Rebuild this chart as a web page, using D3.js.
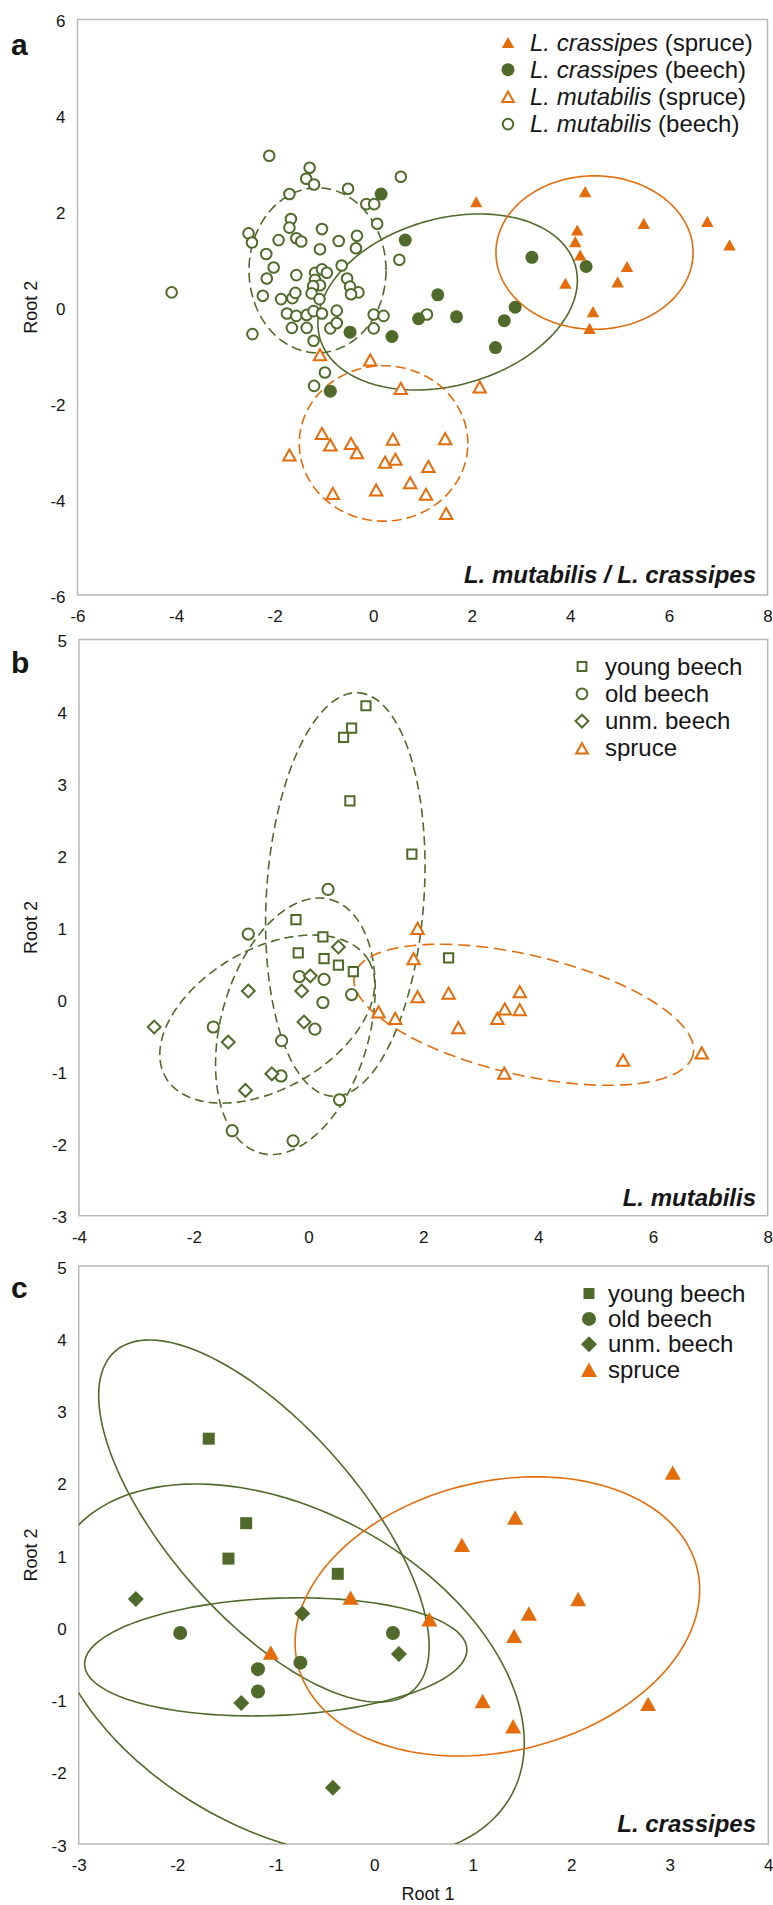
<!DOCTYPE html>
<html>
<head>
<meta charset="utf-8">
<script src="https://cdn.jsdelivr.net/npm/d3@7"></script>
<style>
  html, body { margin: 0; padding: 0; background: #fff; }
  svg { display: block; font-family: "Liberation Sans", Arial, Helvetica, sans-serif; }
</style>
</head>
<body>
<svg id="fig" width="773" height="1905"></svg>
<script>
// ---------- Panel a: L. mutabilis / L. crassipes (Root 1, Root 2 scores) ----------
const mutBeechA = [
  [-2.11,3.16],[-1.29,2.91],[-1.36,2.68],[-1.20,2.56],[-1.70,2.36],[-0.51,2.47],[-0.14,2.15],[0.02,2.15],[0.56,2.72],[0.08,1.74],
  [-1.67,1.84],[-1.70,1.66],[-2.53,1.54],[-2.46,1.35],[-1.92,1.40],[-1.56,1.44],[-1.46,1.37],[-1.04,1.63],[-1.08,1.21],[-0.70,1.38],
  [-0.33,1.49],[-0.35,1.23],[-2.17,1.11],[-2.02,0.83],[-2.16,0.60],[-1.56,0.67],[-1.18,0.72],[-1.04,0.79],[-0.94,0.72],[-1.18,0.57],
  [-1.08,0.46],[-1.22,0.44],[-1.25,0.29],[-0.64,0.87],[-0.53,0.60],[-0.47,0.43],[-0.30,0.31],[-0.45,0.27],[0.53,0.99],[-4.09,0.31],
  [-2.24,0.24],[-1.87,0.17],[-1.64,0.19],[-1.58,0.30],[-1.09,0.17],[-1.75,-0.13],[-1.56,-0.18],[-1.35,-0.16],[-1.21,-0.08],[-1.04,-0.13],
  [-0.74,-0.07],[0.01,-0.15],[0.21,-0.18],[-2.45,-0.56],[-1.65,-0.43],[-1.35,-0.43],[-0.87,-0.44],[-0.74,-0.33],[-1.21,-0.70],[-0.98,-1.36],
  [-1.20,-1.64],[0.01,-0.44],[1.09,-0.15]
];
const mutSpruceA = [
  [-1.08,-0.99],[-0.06,-1.10],[0.56,-1.69],[2.16,-1.66],[-1.04,-2.63],[-0.87,-2.87],[-1.70,-3.08],[-0.45,-2.84],[-0.33,-3.03],[0.40,-2.75],
  [0.24,-3.23],[0.45,-3.17],[-0.82,-3.88],[0.06,-3.81],[1.12,-3.32],[1.46,-2.74],[0.75,-3.66],[1.07,-3.90],[1.48,-4.30]
];
const crasBeechA = [
  [0.16,2.36],[0.65,1.40],[3.22,1.04],[4.32,0.85],[1.31,0.26],[0.92,-0.24],[1.69,-0.20],[2.88,0.00],[2.66,-0.28],[0.38,-0.61],
  [2.48,-0.84],[-0.47,-0.52],[-0.87,-1.75]
];
const crasSpruceA = [
  [2.09,2.20],[4.30,2.41],[4.14,1.61],[4.10,1.37],[4.20,1.09],[5.49,1.75],[6.78,1.79],[7.23,1.30],[5.15,0.85],[4.96,0.53],
  [3.90,0.50],[4.46,-0.09],[4.39,-0.44]
];
// group ellipses: centre and two semi-axis vectors, in score units
const ellipsesA = [
  { group: "mutBeech",   cx: -1.13, cy: 0.77,  ax: 1.39, ay: 0.00, bx: 0.00, by: 1.72 },
  { group: "crasBeech",  cx: 1.51,  cy: 0.11,  ax: 2.59, ay: 0.76, bx: 0.47, by: -1.67 },
  { group: "crasSpruce", cx: 4.49,  cy: 1.14,  ax: 2.00, ay: 0.00, bx: 0.00, by: 1.60 },
  { group: "mutSpruce",  cx: 0.21,  cy: -2.84, ax: 1.71, ay: 0.00, bx: 0.00, by: 1.62 }
];
const xTicksA = [-6, -4, -2, 0, 2, 4, 6, 8];
const yTicksA = [-6, -4, -2, 0, 2, 4, 6];

// ---------- Panel b: L. mutabilis by stand ----------
const youngBeechB = [
  [1.00,4.08],[0.75,3.77],[0.61,3.64],[0.72,2.76],[1.80,2.02],[-0.22,1.11],[0.25,0.87],[-0.18,0.65],[0.27,0.57],[0.52,0.48],
  [0.78,0.39],[2.44,0.58]
];
const oldBeechB = [
  [0.34,1.53],[-1.05,0.91],[-0.16,0.32],[0.27,0.28],[0.75,0.07],[0.25,-0.04],[0.11,-0.41],[-1.66,-0.38],[-0.47,-0.57],[-0.48,-1.06],
  [0.54,-1.39],[-1.33,-1.82],[-0.27,-1.96]
];
const unmBeechB = [
  [0.52,0.73],[0.03,0.33],[-0.12,0.12],[-1.05,0.12],[-2.69,-0.38],[-1.40,-0.59],[-0.08,-0.31],[-0.64,-1.03],[-1.10,-1.26]
];
const spruceB = [
  [1.90,0.99],[1.83,0.57],[1.90,0.04],[2.44,0.09],[1.51,-0.26],[1.22,-0.17],[2.61,-0.39],[3.29,-0.26],[3.42,-0.13],[3.68,0.11],
  [3.68,-0.14],[3.41,-1.02],[5.48,-0.84],[6.85,-0.74]
];
const ellipsesB = [
  { group: "young",  cx: 0.64,  cy: 1.46,  ax: 0.23, ay: 2.80,  bx: 1.37,  by: -0.07 },
  { group: "old",    cx: -0.23, cy: -0.37, ax: 0.61, ay: 1.76,  bx: 1.25,  by: -0.27 },
  { group: "unm",    cx: -0.72, cy: -0.27, ax: 1.77, ay: 0.81,  bx: 0.61,  by: -0.84 },
  { group: "spruce", cx: 3.75,  cy: -0.21, ax: 2.95, ay: -0.55, bx: -0.23, by: -0.81 }
];
const xTicksB = [-4, -2, 0, 2, 4, 6, 8];
const yTicksB = [-3, -2, -1, 0, 1, 2, 3, 4, 5];

// ---------- Panel c: L. crassipes by stand ----------
const youngBeechC = [[-1.68,2.61],[-1.30,1.44],[-1.48,0.95],[-0.37,0.74]];
const oldBeechC = [[-1.97,-0.08],[-1.18,-0.58],[-1.18,-0.89],[-0.75,-0.49],[0.19,-0.08]];
const unmBeechC = [[-2.42,0.39],[-0.73,0.19],[-1.35,-1.05],[-0.42,-2.22],[0.25,-0.37]];
const spruceC = [
  [-1.05,-0.35],[-0.24,0.41],[0.56,0.11],[1.42,-0.12],[1.57,0.19],[2.07,0.39],[1.10,-1.02],[1.41,-1.37],[2.78,-1.06],[3.03,2.14],
  [1.43,1.52],[0.89,1.14]
];
const ellipsesC = [
  { group: "young",  cx: -1.12, cy: 1.47,  ax: 1.51, ay: -2.35, bx: -0.73, by: -0.87 },
  { group: "old",    cx: -1.00, cy: -0.41, ax: 1.94, ay: 0.11,  bx: 0.03,  by: -0.81 },
  { group: "unm",    cx: -0.89, cy: -0.61, ax: 2.28, ay: -1.72, bx: -0.79, by: -1.94 },
  { group: "spruce", cx: 1.25,  cy: 0.15,  ax: 2.03, ay: 0.65,  bx: 0.31,  by: -1.82 }
];
const xTicksC = [-3, -2, -1, 0, 1, 2, 3, 4];
const yTicksC = [-3, -2, -1, 0, 1, 2, 3, 4, 5];

// ---------- drawing ----------
const GREEN = "#4f6a2a", ORANGE = "#e46c0a", FRAME = "#b8b8b8", INK = "#161616";
const svg = d3.select("#fig");

function markerPath(shape, s) {
  switch (shape) {
    case "circle":   return `M${s},0A${s},${s} 0 1,1 ${-s},0A${s},${s} 0 1,1 ${s},0Z`;
    case "square":   return `M${-s},${-s}H${s}V${s}H${-s}Z`;
    case "diamond":  return `M0,${-s}L${s},0L0,${s}L${-s},0Z`;
    case "triangle": { const h = s * 0.9; return `M0,${-h}L${s},${h}L${-s},${h}Z`; }
  }
}

function drawMarker(g, shape, s, filled, color, px, py) {
  g.append("path")
    .attr("d", markerPath(shape, s))
    .attr("transform", `translate(${px},${py})`)
    .attr("fill", filled ? color : "#fff")
    .attr("stroke", filled ? "none" : color)
    .attr("stroke-width", filled ? 0 : 2)
    .attr("stroke-linejoin", "miter");
}

let clipId = 0;
function panel(o) {
  const f = o.frame;
  const x = d3.scaleLinear().domain(o.xDomain).range([f.l, f.r]);
  const y = d3.scaleLinear().domain(o.yDomain).range([f.b, f.t]);
  const g = svg.append("g");

  const id = "clip" + (clipId++);
  g.append("clipPath").attr("id", id)
    .append("rect").attr("x", f.l).attr("y", f.t).attr("width", f.r - f.l).attr("height", f.b - f.t);

  // axes (labels only, no tick marks)
  const ax = g.append("g").attr("transform", `translate(0,${f.b})`)
    .call(d3.axisBottom(x).tickValues(o.xTicks).tickSize(0).tickPadding(15).tickFormat(d => String(d)));
  const ay = g.append("g").attr("transform", `translate(${f.l},0)`)
    .call(d3.axisLeft(y).tickValues(o.yTicks).tickSize(0).tickPadding(12).tickFormat(d => String(d)));
  [ax, ay].forEach(a => {
    a.select(".domain").remove();
    a.selectAll("text").attr("font-size", 17).attr("fill", INK)
      .attr("font-family", '"Liberation Sans", Arial, sans-serif');
  });
  ay.selectAll("text").attr("dy", "0.42em");

  // plot frame
  g.append("rect").attr("x", f.l).attr("y", f.t).attr("width", f.r - f.l).attr("height", f.b - f.t)
    .attr("fill", "none").attr("stroke", FRAME).attr("stroke-width", 1.5);

  // ellipses
  const plot = g.append("g").attr("clip-path", `url(#${id})`);
  const line = d3.line().x(d => x(d[0])).y(d => y(d[1])).curve(d3.curveLinearClosed);
  o.ellipses.forEach(e => {
    const st = o.ellStyle[e.group];
    const pts = d3.range(0, 360, 2).map(deg => {
      const t = deg * Math.PI / 180;
      return [e.cx + e.ax * Math.cos(t) + e.bx * Math.sin(t), e.cy + e.ay * Math.cos(t) + e.by * Math.sin(t)];
    });
    plot.append("path").attr("d", line(pts)).attr("fill", "none")
      .attr("stroke", st.color).attr("stroke-width", 1.6)
      .attr("stroke-dasharray", st.dash || null);
  });

  // points
  const mk = g.append("g");
  o.series.forEach(s => {
    s.data.forEach(d => drawMarker(mk, s.shape, s.size, s.filled, s.color, x(d[0]), y(d[1])));
  });

  // legend
  const lg = g.append("g");
  o.legend.items.forEach((it, i) => {
    const cy = o.legend.y + i * o.legend.dy;
    drawMarker(lg, it.shape, it.size, it.filled, it.color, o.legend.mx, cy);
    const t = lg.append("text").attr("x", o.legend.tx).attr("y", cy + 8)
      .attr("font-size", 24).attr("fill", INK);
    it.parts.forEach(p => t.append("tspan").attr("font-style", p[1] ? "italic" : "normal").text(p[0]));
  });

  // caption in the lower right corner
  g.append("text").attr("x", 756).attr("y", o.captionY).attr("text-anchor", "end")
    .attr("font-size", 24).attr("font-weight", "bold").attr("font-style", "italic").attr("fill", INK)
    .text(o.caption);

  // panel letter
  g.append("text").attr("x", 11).attr("y", o.letterY).attr("font-size", 30).attr("font-weight", "bold")
    .attr("fill", INK).text(o.letter);

  // y axis title
  g.append("text").attr("transform", `translate(37,${(f.t + f.b) / 2}) rotate(-90)`)
    .attr("text-anchor", "middle").attr("font-size", 18).attr("fill", INK).text("Root 2");

  if (o.xTitle) {
    g.append("text").attr("x", 428).attr("y", 1900).attr("text-anchor", "middle")
      .attr("font-size", 18).attr("fill", INK).text(o.xTitle);
  }
}

// panel a
panel({
  frame: { l: 77.5, r: 767.5, t: 19.5, b: 595 },
  xDomain: [-6, 8], yDomain: [-6, 6], xTicks: xTicksA, yTicks: yTicksA,
  ellipses: ellipsesA,
  ellStyle: {
    mutBeech: { color: GREEN, dash: "10,5" }, crasBeech: { color: GREEN },
    crasSpruce: { color: ORANGE }, mutSpruce: { color: ORANGE, dash: "10,5" }
  },
  series: [
    { data: mutBeechA, shape: "circle", size: 5.3, filled: false, color: GREEN },
    { data: mutSpruceA, shape: "triangle", size: 6.2, filled: false, color: ORANGE },
    { data: crasBeechA, shape: "circle", size: 6.5, filled: true, color: GREEN },
    { data: crasSpruceA, shape: "triangle", size: 6.2, filled: true, color: ORANGE }
  ],
  legend: {
    mx: 508, tx: 530, y: 42.5, dy: 27.2,
    items: [
      { shape: "triangle", size: 6.2, filled: true, color: ORANGE, parts: [["L. crassipes", true], [" (spruce)", false]] },
      { shape: "circle", size: 6.5, filled: true, color: GREEN, parts: [["L. crassipes", true], [" (beech)", false]] },
      { shape: "triangle", size: 5.8, filled: false, color: ORANGE, parts: [["L. mutabilis", true], [" (spruce)", false]] },
      { shape: "circle", size: 5.3, filled: false, color: GREEN, parts: [["L. mutabilis", true], [" (beech)", false]] }
    ]
  },
  caption: "L. mutabilis / L. crassipes", captionY: 583, letter: "a", letterY: 55
});

// panel b
panel({
  frame: { l: 79, r: 767.7, t: 639.5, b: 1215.7 },
  xDomain: [-4, 8], yDomain: [-3, 5], xTicks: xTicksB, yTicks: yTicksB,
  ellipses: ellipsesB,
  ellStyle: {
    young: { color: GREEN, dash: "9,5" }, old: { color: GREEN, dash: "9,5" },
    unm: { color: GREEN, dash: "9,5" }, spruce: { color: ORANGE, dash: "12,6" }
  },
  series: [
    { data: youngBeechB, shape: "square", size: 4.6, filled: false, color: GREEN },
    { data: oldBeechB, shape: "circle", size: 5.6, filled: false, color: GREEN },
    { data: unmBeechB, shape: "diamond", size: 6.4, filled: false, color: GREEN },
    { data: spruceB, shape: "triangle", size: 6.2, filled: false, color: ORANGE }
  ],
  legend: {
    mx: 582, tx: 605, y: 666.5, dy: 27.3,
    items: [
      { shape: "square", size: 4.4, filled: false, color: GREEN, parts: [["young beech", false]] },
      { shape: "circle", size: 5.4, filled: false, color: GREEN, parts: [["old beech", false]] },
      { shape: "diamond", size: 6.4, filled: false, color: GREEN, parts: [["unm. beech", false]] },
      { shape: "triangle", size: 5.8, filled: false, color: ORANGE, parts: [["spruce", false]] }
    ]
  },
  caption: "L. mutabilis", captionY: 1206, letter: "b", letterY: 673
});

// panel c
panel({
  frame: { l: 78.7, r: 768.3, t: 1266, b: 1844 },
  xDomain: [-3, 4], yDomain: [-3, 5], xTicks: xTicksC, yTicks: yTicksC,
  ellipses: ellipsesC,
  ellStyle: {
    young: { color: GREEN }, old: { color: GREEN }, unm: { color: GREEN }, spruce: { color: ORANGE }
  },
  series: [
    { data: youngBeechC, shape: "square", size: 6, filled: true, color: GREEN },
    { data: oldBeechC, shape: "circle", size: 7, filled: true, color: GREEN },
    { data: unmBeechC, shape: "diamond", size: 8, filled: true, color: GREEN },
    { data: spruceC, shape: "triangle", size: 8, filled: true, color: ORANGE }
  ],
  legend: {
    mx: 589, tx: 608, y: 1293.5, dy: 25.4,
    items: [
      { shape: "square", size: 5.5, filled: true, color: GREEN, parts: [["young beech", false]] },
      { shape: "circle", size: 7, filled: true, color: GREEN, parts: [["old beech", false]] },
      { shape: "diamond", size: 8, filled: true, color: GREEN, parts: [["unm. beech", false]] },
      { shape: "triangle", size: 8, filled: true, color: ORANGE, parts: [["spruce", false]] }
    ]
  },
  caption: "L. crassipes", captionY: 1832, letter: "c", letterY: 1298, xTitle: "Root 1"
});
</script>
</body>
</html>
